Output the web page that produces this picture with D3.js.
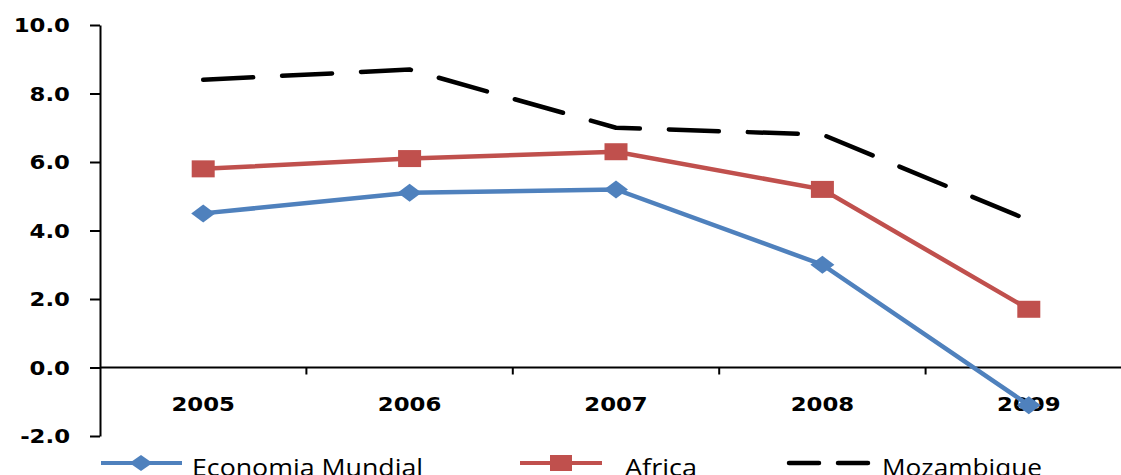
<!DOCTYPE html>
<html>
<head>
<meta charset="utf-8">
<script src="https://cdn.jsdelivr.net/npm/d3@7/dist/d3.min.js"></script>
<style>
  html, body { margin: 0; padding: 0; background: #fff; overflow: hidden; }
  svg { display: block; }
</style>
</head>
<body>
<svg id="chart" width="1121" height="475"></svg>
<script>
// ---- data ----
const years = ["2005", "2006", "2007", "2008", "2009"];
const economiaMundial = [4.5, 5.1, 5.2, 3.0, -1.1];
const africa = [5.8, 6.1, 6.3, 5.2, 1.7];
const mozambique = [8.4, 8.7, 7.0, 6.8, 4.3];
const yTicks = [-2, 0, 2, 4, 6, 8, 10];
const seriesNames = ["Economia Mundial", "Africa", "Mozambique"];

// ---- layout ----
const plotLeft = 100, plotRight = 1132, plotTop = 25, plotBottom = 436;
const stretch = 1.2;

const svg = d3.select("#chart");

const x = d3.scaleBand().domain(years).range([plotLeft, plotRight]).padding(0);
const y = d3.scaleLinear().domain([-2, 10]).range([plotBottom, plotTop]);
const cx = d => x(d) + x.bandwidth() / 2;

function stretchText(sel, k) {
  sel.each(function () {
    const len = this.getComputedTextLength();
    d3.select(this).attr("textLength", len * k).attr("lengthAdjust", "spacingAndGlyphs");
  });
}

// y axis
const yAxis = svg.append("g")
  .attr("transform", `translate(${plotLeft},0)`)
  .call(d3.axisLeft(y).tickValues(yTicks).tickFormat(d3.format(".1f")).tickSize(10).tickSizeOuter(0));
yAxis.select(".domain").attr("stroke", "#000").attr("stroke-width", 2);
yAxis.selectAll(".tick line").attr("stroke", "#000").attr("stroke-width", 2);
yAxis.selectAll(".tick text")
  .attr("x", -30)
  .attr("dy", "0.36em")
  .attr("fill", "#000")
  .style("font-family", "'DejaVu Sans', Verdana, sans-serif")
  .style("font-weight", "bold")
  .style("font-size", "19px")
  .text(d => d3.format(".1f")(d).replace("\u2212", "-"));
stretchText(yAxis.selectAll(".tick text"), stretch);

// x axis (at y = 0)
const xAxisG = svg.append("g").attr("transform", `translate(0,${y(0)})`);
xAxisG.append("line")
  .attr("x1", plotLeft).attr("x2", plotRight)
  .attr("y1", 0).attr("y2", 0)
  .attr("stroke", "#000").attr("stroke-width", 2);
xAxisG.selectAll("line.tk").data(years.slice(1))
  .join("line").attr("class", "tk")
  .attr("x1", d => x(d)).attr("x2", d => x(d))
  .attr("y1", 0).attr("y2", 7)
  .attr("stroke", "#000").attr("stroke-width", 2);
const xLabels = xAxisG.selectAll("text").data(years)
  .join("text")
  .attr("x", d => cx(d))
  .attr("y", 43)
  .attr("text-anchor", "middle")
  .attr("fill", "#000")
  .style("font-family", "'DejaVu Sans', Verdana, sans-serif")
  .style("font-weight", "bold")
  .style("font-size", "19px")
  .text(d => d);
stretchText(xLabels, stretch);

// ---- series ----
const line = d3.line().x(d => cx(d.year)).y(d => y(d.value));
const toPts = arr => years.map((yr, i) => ({ year: yr, value: arr[i] }));

const blue = "#4F81BD", red = "#C0504D";

// Mozambique dashed
svg.append("path")
  .datum(toPts(mozambique))
  .attr("d", line)
  .attr("fill", "none")
  .attr("stroke", "#000")
  .attr("stroke-width", 4.5)
  .attr("stroke-linecap", "round")
  .attr("stroke-linejoin", "round")
  .attr("stroke-dasharray", "50,29");

// Africa
svg.append("path")
  .datum(toPts(africa))
  .attr("d", line)
  .attr("fill", "none")
  .attr("stroke", red)
  .attr("stroke-width", 4.5);
svg.selectAll("rect.af").data(toPts(africa))
  .join("rect").attr("class", "af")
  .attr("x", d => cx(d.year) - 11.5)
  .attr("y", d => y(d.value) - 8.5)
  .attr("width", 23).attr("height", 17)
  .attr("fill", red);

// Economia Mundial
const diamond = (w, h) => `M0,${-h}L${w},0L0,${h}L${-w},0Z`;
svg.append("path")
  .datum(toPts(economiaMundial))
  .attr("d", line)
  .attr("fill", "none")
  .attr("stroke", blue)
  .attr("stroke-width", 4.5);
svg.selectAll("path.em").data(toPts(economiaMundial))
  .join("path").attr("class", "em")
  .attr("transform", d => `translate(${cx(d.year)},${y(d.value)})`)
  .attr("d", diamond(12, 9))
  .attr("fill", blue);

// ---- legend ----
const ly = 463;
const legend = svg.append("g");
const legendFont = g => g
  .attr("fill", "#000")
  .style("font-family", "'Open Sans', 'Noto Sans', sans-serif")
  .style("font-size", "23px");

// item 1
legend.append("line").attr("x1", 101).attr("x2", 182).attr("y1", ly).attr("y2", ly)
  .attr("stroke", blue).attr("stroke-width", 4);
legend.append("path").attr("transform", `translate(141,${ly})`).attr("d", diamond(11.5, 8)).attr("fill", blue);
legend.append("text").attr("x", 192).attr("y", 476).call(legendFont)
  .attr("textLength", 231).attr("lengthAdjust", "spacingAndGlyphs").text(seriesNames[0]);

// item 2
legend.append("line").attr("x1", 520).attr("x2", 602).attr("y1", ly).attr("y2", ly)
  .attr("stroke", red).attr("stroke-width", 4);
legend.append("rect").attr("x", 550).attr("y", ly - 8).attr("width", 22).attr("height", 16).attr("fill", red);
legend.append("text").attr("x", 625).attr("y", 476).call(legendFont)
  .attr("textLength", 72).attr("lengthAdjust", "spacingAndGlyphs").text(seriesNames[1]);

// item 3
legend.append("line").attr("x1", 789).attr("x2", 871).attr("y1", ly).attr("y2", ly)
  .attr("stroke", "#000").attr("stroke-width", 4.5)
  .attr("stroke-linecap", "round")
  .attr("stroke-dasharray", "30,19");
legend.append("text").attr("x", 882).attr("y", 476).call(legendFont)
  .attr("textLength", 160).attr("lengthAdjust", "spacingAndGlyphs").text(seriesNames[2]);
</script>
</body>
</html>
